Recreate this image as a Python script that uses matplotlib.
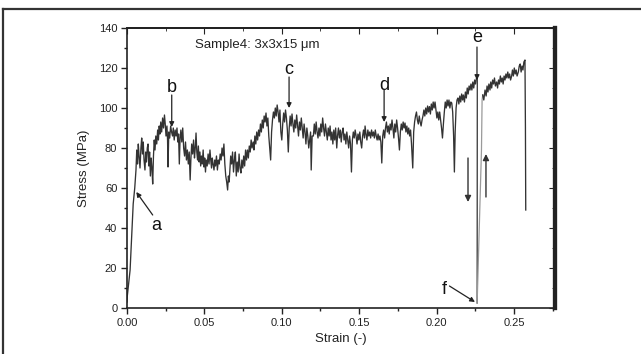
import matplotlib
matplotlib.use("Agg")
import matplotlib.pyplot as plt
from matplotlib.lines import Line2D
from matplotlib.ticker import MultipleLocator

plt.rcParams['font.family'] = ['Liberation Sans', 'DejaVu Sans']

# strain / stress
strain = [
    0.0000, 0.0002, 0.0010, 0.0020, 0.0030, 0.0040, 0.0050, 0.0058,
    0.0063, 0.0068, 0.0073, 0.0078, 0.0084, 0.0090, 0.0095, 0.0100, 0.0105, 0.0110,
    0.0116, 0.0121, 0.0126, 0.0131, 0.0136, 0.0141, 0.0146, 0.0151, 0.0156, 0.0161,
    0.0166, 0.0171, 0.0176, 0.0181, 0.0186, 0.0192, 0.0198,
    0.0203, 0.0208, 0.0213, 0.0218, 0.0224, 0.0230, 0.0236, 0.0242, 0.0247, 0.0252,
    0.0258, 0.0262, 0.0265, 0.0270, 0.0276, 0.0282, 0.0288, 0.0294, 0.0299, 0.0305,
    0.0311, 0.0317, 0.0323, 0.0328, 0.0333, 0.0338, 0.0343, 0.0348, 0.0354, 0.0360,
    0.0366, 0.0372, 0.0378, 0.0384, 0.0390, 0.0396, 0.0402, 0.0408, 0.0413, 0.0418,
    0.0424, 0.0430, 0.0436, 0.0441, 0.0446, 0.0451, 0.0456, 0.0461, 0.0466, 0.0471,
    0.0476, 0.0481, 0.0486, 0.0492, 0.0497, 0.0502, 0.0507, 0.0512, 0.0518, 0.0524,
    0.0530, 0.0536, 0.0541, 0.0546, 0.0551, 0.0556, 0.0562, 0.0567, 0.0572, 0.0578,
    0.0584, 0.0590, 0.0596, 0.0602, 0.0608, 0.0614, 0.0620, 0.0626, 0.0632, 0.0638,
    0.0644, 0.0650, 0.0655, 0.0660, 0.0665, 0.0670, 0.0676, 0.0682, 0.0688, 0.0694,
    0.0700, 0.0706, 0.0712, 0.0718, 0.0724, 0.0730, 0.0736, 0.0742, 0.0748, 0.0754,
    0.0760, 0.0766, 0.0772, 0.0778, 0.0784, 0.0790, 0.0796, 0.0802, 0.0808, 0.0815,
    0.0820, 0.0826, 0.0832, 0.0838, 0.0844, 0.0850, 0.0856, 0.0862, 0.0868, 0.0874,
    0.0880, 0.0886, 0.0892, 0.0898, 0.0904, 0.0910, 0.0916, 0.0922, 0.0928, 0.0934,
    0.0940, 0.0946, 0.0952, 0.0958, 0.0964, 0.0970, 0.0976, 0.0982, 0.0988, 0.0994,
    0.1000, 0.1006, 0.1012, 0.1018, 0.1024, 0.1030, 0.1036, 0.1042, 0.1048, 0.1054,
    0.1060, 0.1066, 0.1072, 0.1078, 0.1084, 0.1090, 0.1096, 0.1102, 0.1108, 0.1114,
    0.1120, 0.1126, 0.1132, 0.1138, 0.1144, 0.1150, 0.1156, 0.1162, 0.1168, 0.1174,
    0.1180, 0.1186, 0.1190, 0.1196, 0.1204, 0.1210, 0.1216, 0.1222, 0.1228, 0.1234,
    0.1240, 0.1246, 0.1252, 0.1258, 0.1264, 0.1270, 0.1276, 0.1282, 0.1288, 0.1294,
    0.1300, 0.1306, 0.1312, 0.1318, 0.1324, 0.1330, 0.1336, 0.1342, 0.1348, 0.1355,
    0.1360, 0.1366, 0.1372, 0.1378, 0.1384, 0.1390, 0.1396, 0.1402, 0.1408, 0.1414,
    0.1420, 0.1426, 0.1432, 0.1438, 0.1444, 0.1450, 0.1456, 0.1462, 0.1468, 0.1474,
    0.1480, 0.1486, 0.1492, 0.1498, 0.1504, 0.1510, 0.1516, 0.1522, 0.1528, 0.1534,
    0.1538, 0.1544, 0.1550, 0.1556, 0.1562, 0.1568, 0.1574, 0.1580, 0.1586, 0.1592,
    0.1598, 0.1604, 0.1610, 0.1616, 0.1622, 0.1628, 0.1634, 0.1640, 0.1646, 0.1652,
    0.1658, 0.1664, 0.1670, 0.1676, 0.1682, 0.1688, 0.1694, 0.1700, 0.1706, 0.1712,
    0.1718, 0.1724, 0.1730, 0.1736, 0.1742, 0.1748, 0.1754, 0.1760, 0.1766, 0.1772,
    0.1778, 0.1784, 0.1790, 0.1796, 0.1802, 0.1808, 0.1814, 0.1820, 0.1826, 0.1832,
    0.1838, 0.1846, 0.1852, 0.1858, 0.1864, 0.1870, 0.1876, 0.1882, 0.1888, 0.1894,
    0.1900, 0.1906, 0.1912, 0.1918, 0.1924, 0.1930, 0.1936, 0.1942, 0.1948, 0.1954,
    0.1960, 0.1966, 0.1972, 0.1978, 0.1984, 0.1990, 0.1996, 0.2002, 0.2008, 0.2014,
    0.2020, 0.2026, 0.2032, 0.2038, 0.2044, 0.2050, 0.2056, 0.2062, 0.2068, 0.2074,
    0.2080, 0.2086, 0.2092, 0.2098, 0.2104, 0.2110, 0.2115, 0.2120, 0.2126, 0.2132,
    0.2138, 0.2144, 0.2150, 0.2156, 0.2162, 0.2168, 0.2173, 0.2180, 0.2186, 0.2192,
    0.2198, 0.2204, 0.2210, 0.2216, 0.2222, 0.2228, 0.2234, 0.2240, 0.2246, 0.2252,
    0.2258, 0.2263,
]
stress = [
    3, 6, 12, 19, 35, 52, 60, 69,
    79, 72, 82, 76, 70, 80, 85, 77, 83, 74,
    69, 78, 73, 80, 82, 71, 78, 66, 75, 70,
    62, 76, 84, 79, 86, 82, 89,
    84, 91, 87, 93, 88, 95, 90, 96.5, 92, 86,
    91, 84, 70.5, 88, 85, 91, 88, 86, 90, 84,
    89, 86, 90, 83, 87, 72, 85, 89, 83, 90,
    80, 76, 83, 74, 79, 72, 78, 64, 75, 82,
    77, 84, 75, 80, 87.5, 78, 74, 81, 73, 78,
    71, 76, 72, 79, 70.5, 75, 68, 74, 71, 77,
    72, 79, 74, 70, 75, 72, 69, 74, 71, 76,
    69, 74, 72, 77, 74, 80, 76, 82, 72, 66,
    63, 59, 66, 63, 70, 76, 72, 78, 68, 74,
    78, 66, 73, 68, 77, 70, 67.5, 74, 70, 76,
    71, 79, 74, 79, 75, 81, 78, 84, 80, 83,
    79, 86, 82, 88, 84, 89, 86, 92, 88, 94,
    90, 96, 93, 97.5, 91, 95, 86, 80, 74, 88,
    94, 98, 95, 100, 96, 101.5, 98, 93, 99, 88,
    84, 92, 97.5, 93, 99, 95, 89, 78, 90, 96,
    91, 97, 92, 88, 94, 90, 96.5, 91, 86, 93,
    89, 95, 90, 85, 92, 88, 82, 90, 86, 80,
    84, 88, 69, 86, 86, 92, 87, 93, 88, 85,
    90, 86, 92, 88, 95, 90, 86, 92, 88, 84,
    90, 86, 91, 84, 88, 82, 89, 84, 90, 80,
    86, 90, 85, 89, 83, 88, 90, 84, 87, 82,
    88, 84, 80, 86, 82, 68, 84, 88, 85, 89,
    86, 82, 87, 84, 88, 83, 80, 86, 89, 85,
    91, 87, 84, 89, 86, 88, 85, 89, 86, 88,
    85, 89, 86, 84, 87, 84, 86, 83, 72.5, 86,
    89, 85, 90, 93, 88, 91, 87, 92, 89, 94,
    90, 85, 92, 88, 94, 90, 85, 79, 88, 92,
    89, 93, 90, 92.5, 88, 91, 87, 90, 86, 89,
    82, 70, 88, 93, 96, 98, 94, 92, 96, 93,
    91, 94, 96, 99, 96, 100, 97, 101, 98, 100.7,
    97, 102, 99, 103, 100, 103, 99, 95, 98, 94,
    98, 94, 90, 85, 92, 98, 103, 100, 104, 101,
    104, 100, 103, 102.5, 98, 86, 68, 88, 100, 104,
    105, 102, 106, 103, 107, 104, 106.5, 103, 108, 105,
    110, 107, 111, 109, 112, 109, 113, 110, 114, 112,
    115, 116,
]

# sudden drop to point f and the reloading branch
drop_strain = [0.2263, 0.2262]
drop_stress = [116, 2.5]
reload_strain = [0.2262, 0.2290, 0.2294, 0.2298]
reload_stress = [2.5, 79, 104, 106.5]

# after reloading
tail_strain = [
    0.2298, 0.2305, 0.2313, 0.2320, 0.2326, 0.2332, 0.2338, 0.2345, 0.2350, 0.2356,
    0.2362, 0.2368, 0.2374, 0.2380, 0.2388, 0.2394, 0.2400, 0.2406, 0.2412, 0.2418,
    0.2424, 0.2430, 0.2436, 0.2442, 0.2448, 0.2454, 0.2460, 0.2466, 0.2472, 0.2478,
    0.2485, 0.2490, 0.2496, 0.2502, 0.2508, 0.2514, 0.2520, 0.2528, 0.2534, 0.2540,
    0.2546, 0.2552, 0.2558, 0.2564, 0.2571, 0.2574, 0.2576,
]
tail_stress = [
    106.5, 104, 109, 106, 111, 108, 112, 109, 113, 110,
    114, 112, 115, 111, 113, 110, 114, 112, 116, 113,
    115, 112, 116, 114, 117, 115, 118, 115, 117, 114,
    116, 119, 116, 120, 117, 119, 116, 118, 121, 122,
    118, 121, 119, 123, 124, 90, 49,
]

# letter labels: (letter, text x, text y, arrow tail x, tail y, head x, head y)
labels = [
    ("b", 0.0289, 110, 0.0289, 106.5, 0.0289, 90.5),
    ("c", 0.1047, 119, 0.1047, 115.5, 0.1047, 100),
    ("d", 0.1661, 111, 0.1661, 109, 0.1661, 93),
    ("e", 0.2261, 135, 0.2261, 130.5, 0.2261, 114),
    ("a", 0.0192, 41.5, 0.0166, 46.5, 0.0060, 58),
    ("f", 0.2048, 9, 0.2083, 11, 0.2248, 3),
]

fig = plt.figure(figsize=(6.41, 3.54), dpi=100)
ax = fig.add_axes([127/641, 46/354, 428/641, 280/354])

ax.plot(strain, stress, color='#333333', lw=0.95)
ax.plot(drop_strain, drop_stress, color='#333333', lw=0.9)
ax.plot(reload_strain, reload_stress, color='#9a9a9a', lw=0.9)
ax.plot(tail_strain, tail_stress, color='#333333', lw=0.95)

ax.set_xlim(0, 0.2765)
ax.set_ylim(0, 140)
ax.xaxis.set_major_locator(MultipleLocator(0.05))
ax.xaxis.set_minor_locator(MultipleLocator(0.025))
ax.yaxis.set_major_locator(MultipleLocator(20))
ax.yaxis.set_minor_locator(MultipleLocator(10))
ax.xaxis.set_major_formatter(matplotlib.ticker.FormatStrFormatter('%.2f'))
ax.tick_params(which='major', direction='out', length=4, width=1, labelsize=8,
               colors='#222222', pad=3)
ax.tick_params(which='minor', direction='out', length=2.5, width=1, colors='#222222')

top = ax.secondary_xaxis('top')
top.xaxis.set_major_locator(MultipleLocator(0.05))
top.xaxis.set_minor_locator(MultipleLocator(0.025))
top.tick_params(which='major', direction='in', length=4, labeltop=False, colors='#222222')
top.tick_params(which='minor', direction='in', length=2.5, colors='#222222')
top.spines['top'].set_linewidth(1.2)
right = ax.secondary_yaxis('right')
right.yaxis.set_major_locator(MultipleLocator(20))
right.yaxis.set_minor_locator(MultipleLocator(10))
right.tick_params(which='major', direction='in', length=4, labelright=False, colors='#222222')
right.tick_params(which='minor', direction='in', length=2.5, colors='#222222')
right.spines['right'].set_linewidth(3)
right.spines['right'].set_color('#222222')

for s in ['left', 'bottom', 'top']:
    ax.spines[s].set_linewidth(1.2)
    ax.spines[s].set_color('#222222')
ax.spines['right'].set_linewidth(3)
ax.spines['right'].set_color('#222222')

ax.set_xlabel('Strain (-)', fontsize=9.5, color='#222222', labelpad=4)
ax.set_ylabel('Stress (MPa)', fontsize=9.5, color='#222222', labelpad=6)

ax.text(0.044, 131.5, 'Sample4: 3x3x15 μm', fontsize=9.5, color='#222222',
        va='center', ha='left')

for name, tx, ty, ax0, ay0, ax1, ay1 in labels:
    ax.text(tx, ty, name, fontsize=13, color='#111111', ha='center', va='center')
    ax.annotate('', xy=(ax1, ay1), xytext=(ax0, ay0),
                arrowprops=dict(arrowstyle='-|>', color='#222222', lw=0.9,
                                mutation_scale=7, shrinkA=0, shrinkB=0))

# hand-drawn unloading / reloading arrows near f
ax.annotate('', xy=(0.2203, 53), xytext=(0.2203, 75),
            arrowprops=dict(arrowstyle='-|>', color='#333333', lw=1.0,
                            mutation_scale=9, shrinkA=0, shrinkB=0))
ax.annotate('', xy=(0.2319, 77), xytext=(0.2319, 55.5),
            arrowprops=dict(arrowstyle='-|>', color='#333333', lw=1.0,
                            mutation_scale=9, shrinkA=0, shrinkB=0))

# picture frame
fig.add_artist(Line2D([3/641, 1], [1 - 9/354, 1 - 9/354], transform=fig.transFigure,
                      color='#333333', lw=1.6))
fig.add_artist(Line2D([3/641, 3/641], [0, 1 - 9/354], transform=fig.transFigure,
                      color='#333333', lw=1.6))

fig.savefig('out.png', dpi=100)
